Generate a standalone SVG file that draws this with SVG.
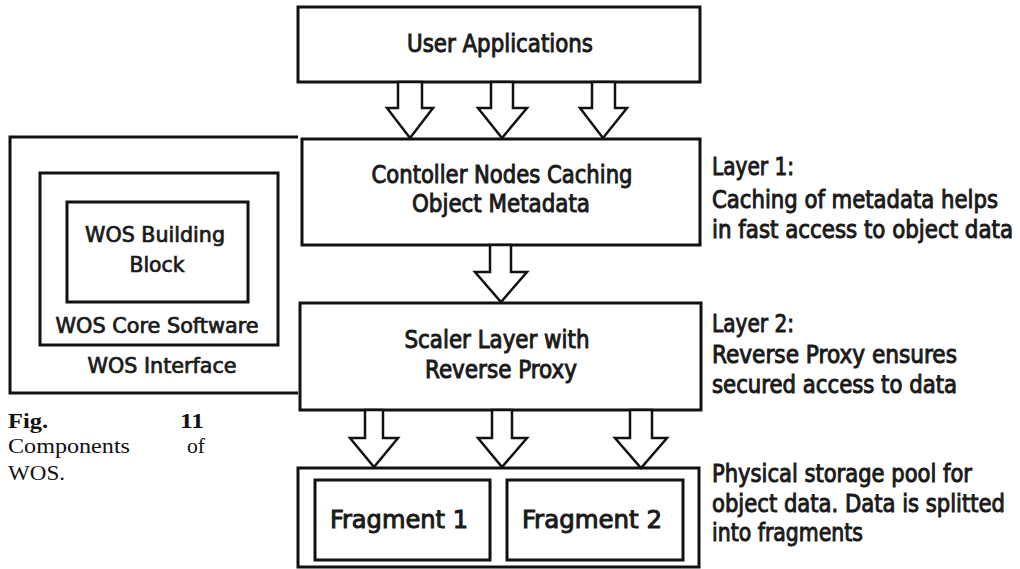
<svg xmlns="http://www.w3.org/2000/svg" width="1020" height="569" viewBox="0 0 1020 569">
<style>
.box{fill:none;stroke:#111;stroke-width:3}
.arr{fill:#fff;stroke:#111;stroke-width:2.5;stroke-linejoin:miter}
.t{font-family:"DejaVu Sans Condensed","DejaVu Sans",sans-serif;font-weight:normal;fill:#1a1a1a;stroke:#1a1a1a;stroke-width:0.9}
.m{font-size:24px;text-anchor:middle}
.r{font-size:24px}
.l{font-size:21px;text-anchor:middle;stroke-width:0.7}
.c{font-family:"Liberation Serif","DejaVu Serif",serif;font-size:22px;fill:#111}
</style>
<rect width="1020" height="569" fill="#fff"/>
<g id="wos-interface">
<path class="box" d="M298,137 H10 V393 H298"/>
<text class="t l" x="162" y="373" textLength="149" lengthAdjust="spacingAndGlyphs">WOS Interface</text>
</g>
<g id="wos-core">
<rect class="box" x="40" y="173" width="238" height="172"/>
<text class="t l" x="157" y="333" textLength="203" lengthAdjust="spacingAndGlyphs">WOS Core Software</text>
</g>
<g id="wos-block">
<rect class="box" x="67" y="202" width="181" height="100"/>
<text class="t l" x="155" y="242" textLength="140" lengthAdjust="spacingAndGlyphs">WOS Building</text>
<text class="t l" x="157" y="272" textLength="55" lengthAdjust="spacingAndGlyphs">Block</text>
</g>
<g id="caption">
<text class="c" x="8" y="428" font-weight="bold" font-size="24" textLength="40" lengthAdjust="spacingAndGlyphs">Fig.</text>
<text class="c" x="180" y="428" font-weight="bold" font-size="24" textLength="24" lengthAdjust="spacingAndGlyphs">11</text>
<text class="c" x="8" y="453" textLength="122" lengthAdjust="spacingAndGlyphs">Components</text>
<text class="c" x="187" y="453" textLength="18" lengthAdjust="spacingAndGlyphs">of</text>
<text class="c" x="8" y="480" textLength="57" lengthAdjust="spacingAndGlyphs">WOS.</text>
</g>
<g id="user-applications">
<rect class="box" x="298" y="7" width="402" height="75"/>
<text class="t m" x="500" y="52" textLength="186" lengthAdjust="spacingAndGlyphs">User Applications</text>
</g>
<g id="controller-nodes">
<rect class="box" x="302" y="139" width="398" height="106"/>
<text class="t m" x="502" y="183" textLength="261" lengthAdjust="spacingAndGlyphs">Contoller Nodes Caching</text>
<text class="t m" x="501" y="212" textLength="178" lengthAdjust="spacingAndGlyphs">Object Metadata</text>
</g>
<g id="scaler-layer">
<rect class="box" x="300" y="303" width="401" height="107"/>
<text class="t m" x="497" y="348" textLength="185" lengthAdjust="spacingAndGlyphs">Scaler Layer with</text>
<text class="t m" x="501" y="378" textLength="152" lengthAdjust="spacingAndGlyphs">Reverse Proxy</text>
</g>
<g id="storage-pool">
<rect class="box" x="298" y="468" width="401" height="99"/>
</g>
<g id="fragment-1">
<rect class="box" x="315" y="480" width="175" height="80"/>
<text class="t m" x="399" y="528" font-size="26" textLength="138" lengthAdjust="spacingAndGlyphs">Fragment 1</text>
</g>
<g id="fragment-2">
<rect class="box" x="507" y="480" width="176" height="80"/>
<text class="t m" x="592" y="528" font-size="26" textLength="140" lengthAdjust="spacingAndGlyphs">Fragment 2</text>
</g>
<g id="notes">
<text class="t r" x="712" y="175" textLength="82" lengthAdjust="spacingAndGlyphs">Layer 1:</text>
<text class="t r" x="712" y="208" textLength="286" lengthAdjust="spacingAndGlyphs">Caching of metadata helps</text>
<text class="t r" x="712" y="238" textLength="301" lengthAdjust="spacingAndGlyphs">in fast access to object data</text>
<text class="t r" x="712" y="332" textLength="82" lengthAdjust="spacingAndGlyphs">Layer 2:</text>
<text class="t r" x="712" y="363" textLength="245" lengthAdjust="spacingAndGlyphs">Reverse Proxy ensures</text>
<text class="t r" x="712" y="393" textLength="245" lengthAdjust="spacingAndGlyphs">secured access to data</text>
<text class="t r" x="712" y="482" textLength="260" lengthAdjust="spacingAndGlyphs">Physical storage pool for</text>
<text class="t r" x="712" y="512" textLength="293" lengthAdjust="spacingAndGlyphs">object data. Data is splitted</text>
<text class="t r" x="712" y="541" textLength="151" lengthAdjust="spacingAndGlyphs">into fragments</text>
</g>
<g id="connectors">
<polygon class="arr" points="398,82 398,108 387,108 410,138 433,108 422,108 422,82"/>
<polygon class="arr" points="491,82 491,108 478,108 502,138 527,108 513,108 513,82"/>
<polygon class="arr" points="592,82 592,108 580,108 603,138 627,108 615,108 615,82"/>
<polygon class="arr" points="490,245 490,272 475,272 501,302 527,272 511,272 511,245"/>
<polygon class="arr" points="365,410 365,438 350,438 374,467 398,438 383,438 383,410"/>
<polygon class="arr" points="492,410 492,438 478,438 502,467 527,438 512,438 512,410"/>
<polygon class="arr" points="630,410 630,438 615,438 641,468 667,438 652,438 652,410"/>
</g>
</svg>
